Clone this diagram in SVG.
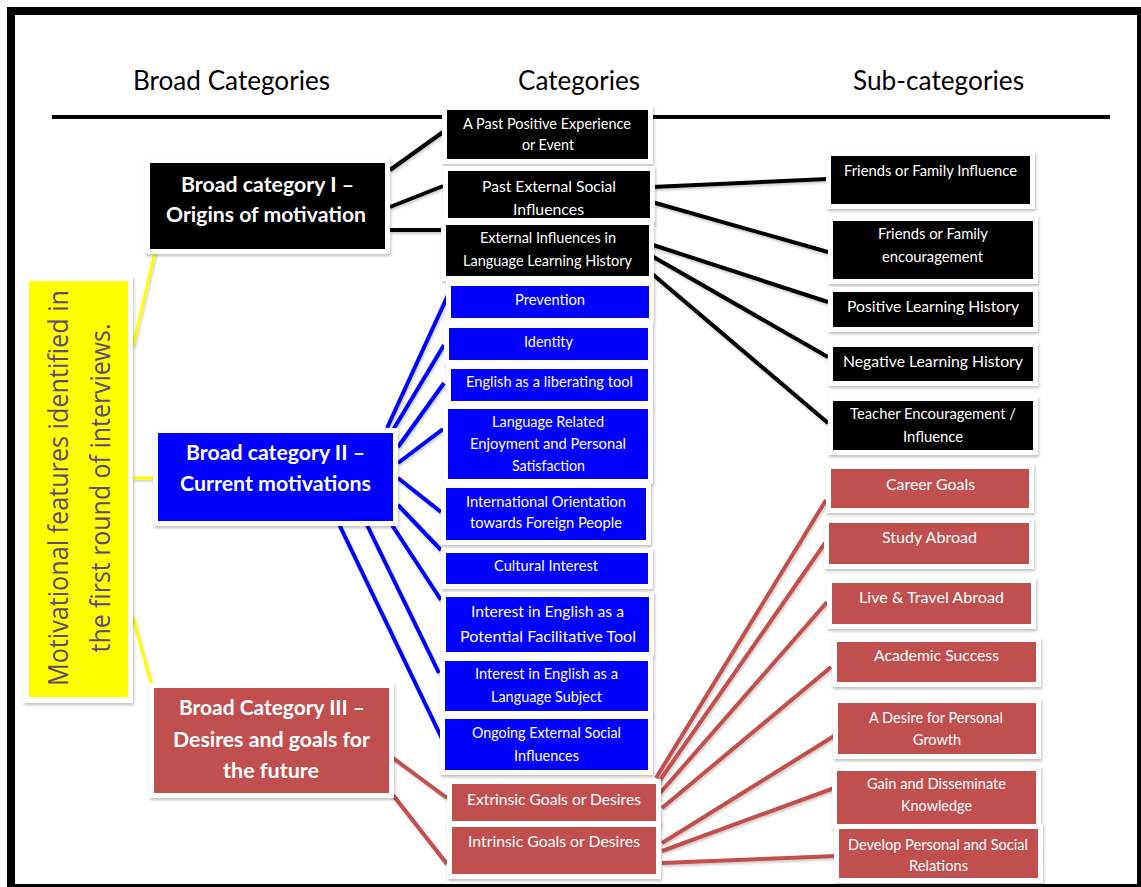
<svg xmlns="http://www.w3.org/2000/svg" width="1141" height="887" viewBox="0 0 1141 887">
<defs>
<filter id="sh" x="-10%" y="-10%" width="125%" height="130%">
<feDropShadow dx="1" dy="2" stdDeviation="1.5" flood-color="#000" flood-opacity="0.25"/>
</filter>
<filter id="lsh" x="-10%" y="-10%" width="120%" height="120%">
<feDropShadow dx="1" dy="2" stdDeviation="1.2" flood-color="#000" flood-opacity="0.2"/>
</filter>
</defs>
<style>
.frame{fill:#fff;filter:url(#sh)}
.blk{fill:#000}
.blu{fill:#0000ff}
.red{fill:#c0504d}
.yel{fill:#ffff00}
.t{font-family:Lato,"Liberation Sans",sans-serif;font-size:15px;fill:#fff;text-anchor:middle}
.tb{font-family:Lato,"Liberation Sans",sans-serif;font-size:21px;font-weight:bold;fill:#fff;text-anchor:middle}
.hd{font-family:Lato,"Liberation Sans",sans-serif;font-size:26px;fill:#000;text-anchor:middle}
.lk{fill:none;stroke:#000;stroke-width:4}
.lb{fill:none;stroke:#0000ff;stroke-width:4}
.lr{fill:none;stroke:#c0504d;stroke-width:4}
.ly{fill:none;stroke:#ffff00;stroke-width:3}
</style>
<rect x="7" y="7" width="1134" height="880" fill="#000"/>
<rect x="15" y="15" width="1122" height="869" fill="#fff"/>
<g id="headers">
<text class="hd" x="231.5" y="90" textLength="197" lengthAdjust="spacingAndGlyphs">Broad Categories</text>
<text class="hd" x="579" y="90" textLength="122" lengthAdjust="spacingAndGlyphs">Categories</text>
<text class="hd" x="938.5" y="90" textLength="171" lengthAdjust="spacingAndGlyphs">Sub-categories</text>
<line x1="52" y1="117" x2="1110" y2="117" stroke="#000" stroke-width="4"/>
</g>
<g id="connectors" filter="url(#lsh)">
<path class="ly" d="M133 346L155 252M133 478H155M133 617L153 690"/>
<path class="lk" d="M390 170L443 132M390 207L443 186M390 230L447 230"/>
<path class="lk" d="M652 187L827 179M652 202L828 252M650 244L828 302M650 255L828 357M650 272L828 423"/>
<path class="lb" d="M387 428L448 295M393 430L444 345M398 447L444 383M398 463L443 429M398 478L441 512M398 505L441 550M392 525L441 600M367 525L439 673M338 522L446 747"/>
<path class="lr" d="M393 758L447 798M393 795L447 864"/>
<path class="lr" d="M656 778L826 500M658 783L825 543M660 793L827 602M662 808L831 667M662 843L834 736M662 851L837 787M662 863L836 856"/>
</g>
<g id="yellow">
<rect class="frame" x="23" y="276" width="110" height="427"/>
<rect class="yel" x="29" y="281" width="99" height="416"/>
<text font-family="'Open Sans','DejaVu Sans',sans-serif" font-size="27" fill="#5f497a" text-anchor="middle" transform="rotate(-90 68 488)" x="68" y="488" textLength="396" lengthAdjust="spacingAndGlyphs">Motivational features identified in</text>
<text font-family="'Open Sans','DejaVu Sans',sans-serif" font-size="27" fill="#5f497a" text-anchor="middle" transform="rotate(-90 110 488)" x="110" y="488" textLength="329" lengthAdjust="spacingAndGlyphs">the first round of interviews.</text>
</g>
<g id="broad1">
<rect class="frame" x="145" y="158" width="245" height="96"/>
<rect class="blk" x="150" y="163" width="235" height="86"/>
<text class="tb" x="267.5" y="192" textLength="173" lengthAdjust="spacingAndGlyphs">Broad category I –</text>
<text class="tb" x="266" y="222" textLength="200" lengthAdjust="spacingAndGlyphs">Origins of motivation</text>
</g>
<g id="broad2">
<rect class="frame" x="153" y="428" width="245" height="98"/>
<rect class="blu" x="158" y="433" width="235" height="88"/>
<text class="tb" x="275.5" y="460" textLength="179" lengthAdjust="spacingAndGlyphs">Broad category II –</text>
<text class="tb" x="275.5" y="491" textLength="191" lengthAdjust="spacingAndGlyphs">Current motivations</text>
</g>
<g id="broad3">
<rect class="frame" x="149" y="683" width="245" height="115"/>
<rect class="red" x="154" y="688" width="235" height="105"/>
<text class="tb" x="272" y="715" textLength="186" lengthAdjust="spacingAndGlyphs">Broad Category III –</text>
<text class="tb" x="271.5" y="747" textLength="197" lengthAdjust="spacingAndGlyphs">Desires and goals for</text>
<text class="tb" x="271" y="778" textLength="96" lengthAdjust="spacingAndGlyphs">the future</text>
</g>
<g id="c1"><rect class="frame" x="442" y="105" width="211" height="59"/><rect class="blk" x="447" y="110" width="201" height="49"/>
<text class="t" x="547" y="129" textLength="168" lengthAdjust="spacingAndGlyphs">A Past Positive Experience</text><text class="t" x="548" y="150" textLength="52" lengthAdjust="spacingAndGlyphs">or Event</text></g>
<g id="c2"><rect class="frame" x="443" y="166" width="212" height="57"/><rect class="blk" x="448" y="171" width="202" height="47"/>
<text class="t" x="549" y="192" textLength="134" lengthAdjust="spacingAndGlyphs">Past External Social</text><text class="t" x="548.5" y="215" textLength="71" lengthAdjust="spacingAndGlyphs">Influences</text></g>
<g id="c3"><rect class="frame" x="441" y="220" width="213" height="61"/><rect class="blk" x="446" y="225" width="203" height="51"/>
<text class="t" x="548" y="243" textLength="136" lengthAdjust="spacingAndGlyphs">External Influences in</text><text class="t" x="547.5" y="266" textLength="169" lengthAdjust="spacingAndGlyphs">Language Learning History</text></g>
<g id="c4"><rect class="frame" x="446" y="281" width="208" height="42"/><rect class="blu" x="451" y="286" width="198" height="32"/>
<text class="t" x="550" y="305" textLength="70" lengthAdjust="spacingAndGlyphs">Prevention</text></g>
<g id="c5"><rect class="frame" x="444" y="323" width="209" height="42"/><rect class="blu" x="449" y="328" width="199" height="32"/>
<text class="t" x="548.5" y="347" textLength="49" lengthAdjust="spacingAndGlyphs">Identity</text></g>
<g id="c6"><rect class="frame" x="446" y="364" width="207" height="42"/><rect class="blu" x="451" y="369" width="197" height="32"/>
<text class="t" x="549.5" y="387" textLength="167" lengthAdjust="spacingAndGlyphs">English as a liberating tool</text></g>
<g id="c7"><rect class="frame" x="443" y="404" width="210" height="80"/><rect class="blu" x="448" y="409" width="200" height="70"/>
<text class="t" x="548" y="427" textLength="112" lengthAdjust="spacingAndGlyphs">Language Related</text><text class="t" x="548" y="449" textLength="156" lengthAdjust="spacingAndGlyphs">Enjoyment and Personal</text><text class="t" x="548.5" y="471" textLength="73" lengthAdjust="spacingAndGlyphs">Satisfaction</text></g>
<g id="c8"><rect class="frame" x="441" y="483" width="210" height="62"/><rect class="blu" x="446" y="488" width="200" height="52"/>
<text class="t" x="546" y="507" textLength="160" lengthAdjust="spacingAndGlyphs">International Orientation</text><text class="t" x="546" y="528" textLength="152" lengthAdjust="spacingAndGlyphs">towards Foreign People</text></g>
<g id="c9"><rect class="frame" x="441" y="548" width="212" height="41"/><rect class="blu" x="446" y="553" width="202" height="31"/>
<text class="t" x="546" y="571" textLength="104" lengthAdjust="spacingAndGlyphs">Cultural Interest</text></g>
<g id="c10"><rect class="frame" x="441" y="592" width="213" height="65"/><rect class="blu" x="446" y="597" width="203" height="55"/>
<text class="t" x="547.5" y="617" textLength="153" lengthAdjust="spacingAndGlyphs">Interest in English as a</text><text class="t" x="548" y="642" textLength="176" lengthAdjust="spacingAndGlyphs">Potential Facilitative Tool</text></g>
<g id="c11"><rect class="frame" x="440" y="656" width="213" height="60"/><rect class="blu" x="445" y="661" width="203" height="50"/>
<text class="t" x="546.5" y="679" textLength="143" lengthAdjust="spacingAndGlyphs">Interest in English as a</text><text class="t" x="546.5" y="702" textLength="111" lengthAdjust="spacingAndGlyphs">Language Subject</text></g>
<g id="c12"><rect class="frame" x="440" y="714" width="213" height="61"/><rect class="blu" x="445" y="719" width="203" height="51"/>
<text class="t" x="546.5" y="738" textLength="149" lengthAdjust="spacingAndGlyphs">Ongoing External Social</text><text class="t" x="546.5" y="761" textLength="65" lengthAdjust="spacingAndGlyphs">Influences</text></g>
<g id="c13"><rect class="frame" x="447" y="779" width="214" height="47"/><rect class="red" x="452" y="784" width="204" height="37"/>
<text class="t" x="554" y="805" textLength="174" lengthAdjust="spacingAndGlyphs">Extrinsic Goals or Desires</text></g>
<g id="c14"><rect class="frame" x="447" y="822" width="214" height="57"/><rect class="red" x="452" y="827" width="204" height="47"/>
<text class="t" x="554" y="847" textLength="172" lengthAdjust="spacingAndGlyphs">Intrinsic Goals or Desires</text></g>
<g id="s1"><rect class="frame" x="826" y="151" width="209" height="58"/><rect class="blk" x="831" y="156" width="199" height="48"/>
<text class="t" x="930.5" y="176" textLength="173" lengthAdjust="spacingAndGlyphs">Friends or Family Influence</text></g>
<g id="s2"><rect class="frame" x="828" y="216" width="210" height="68"/><rect class="blk" x="833" y="221" width="200" height="58"/>
<text class="t" x="933" y="239" textLength="110" lengthAdjust="spacingAndGlyphs">Friends or Family</text><text class="t" x="932.5" y="262" textLength="101" lengthAdjust="spacingAndGlyphs">encouragement</text></g>
<g id="s3"><rect class="frame" x="828" y="287" width="210" height="45"/><rect class="blk" x="833" y="292" width="200" height="35"/>
<text class="t" x="933" y="312" textLength="172" lengthAdjust="spacingAndGlyphs">Positive Learning History</text></g>
<g id="s4"><rect class="frame" x="828" y="342" width="210" height="44"/><rect class="blk" x="833" y="347" width="200" height="34"/>
<text class="t" x="933" y="367" textLength="180" lengthAdjust="spacingAndGlyphs">Negative Learning History</text></g>
<g id="s5"><rect class="frame" x="828" y="396" width="210" height="59"/><rect class="blk" x="833" y="401" width="200" height="49"/>
<text class="t" x="933" y="419" textLength="166" lengthAdjust="spacingAndGlyphs">Teacher Encouragement /</text><text class="t" x="933" y="442" textLength="60" lengthAdjust="spacingAndGlyphs">Influence</text></g>
<g id="s6"><rect class="frame" x="826" y="464" width="208" height="49"/><rect class="red" x="831" y="469" width="198" height="39"/>
<text class="t" x="930.5" y="490" textLength="89" lengthAdjust="spacingAndGlyphs">Career Goals</text></g>
<g id="s7"><rect class="frame" x="824" y="518" width="210" height="51"/><rect class="red" x="829" y="523" width="200" height="41"/>
<text class="t" x="929.5" y="543" textLength="95" lengthAdjust="spacingAndGlyphs">Study Abroad</text></g>
<g id="s8"><rect class="frame" x="827" y="578" width="209" height="51"/><rect class="red" x="832" y="583" width="199" height="41"/>
<text class="t" x="931.5" y="603" textLength="145" lengthAdjust="spacingAndGlyphs">Live &amp; Travel Abroad</text></g>
<g id="s9"><rect class="frame" x="832" y="637" width="209" height="50"/><rect class="red" x="837" y="642" width="199" height="40"/>
<text class="t" x="936.5" y="661" textLength="125" lengthAdjust="spacingAndGlyphs">Academic Success</text></g>
<g id="s10"><rect class="frame" x="833" y="698" width="208" height="61"/><rect class="red" x="838" y="703" width="198" height="51"/>
<text class="t" x="936" y="723" textLength="134" lengthAdjust="spacingAndGlyphs">A Desire for Personal</text><text class="t" x="937" y="745" textLength="48" lengthAdjust="spacingAndGlyphs">Growth</text></g>
<g id="s11"><rect class="frame" x="832" y="766" width="209" height="63"/><rect class="red" x="837" y="771" width="199" height="53"/>
<text class="t" x="936.5" y="789" textLength="139" lengthAdjust="spacingAndGlyphs">Gain and Disseminate</text><text class="t" x="936.5" y="811" textLength="71" lengthAdjust="spacingAndGlyphs">Knowledge</text></g>
<g id="s12"><rect class="frame" x="834" y="824" width="209" height="59"/><rect class="red" x="839" y="829" width="199" height="49"/>
<text class="t" x="938" y="850" textLength="180" lengthAdjust="spacingAndGlyphs">Develop Personal and Social</text><text class="t" x="938.5" y="871" textLength="59" lengthAdjust="spacingAndGlyphs">Relations</text></g>
</svg>
